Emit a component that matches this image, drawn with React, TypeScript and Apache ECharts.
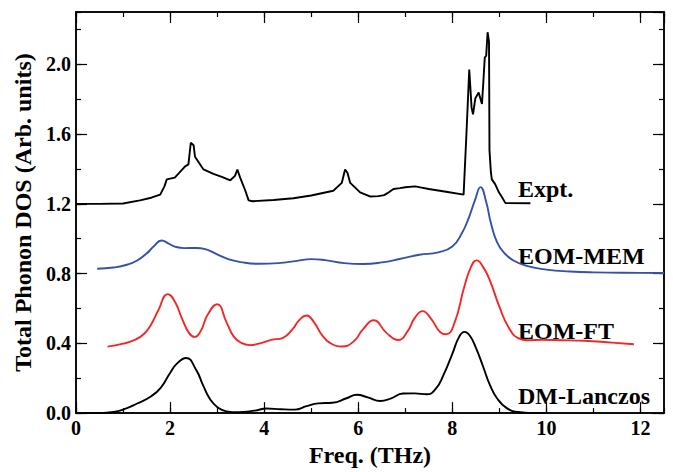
import React, { useEffect, useRef } from "react";
import * as echarts from "echarts";

const FONT = '"Liberation Serif", "Times New Roman", serif';

const exptX = [0, 0.5, 1.0, 1.36, 1.6, 1.79, 1.88, 1.93, 2.1, 2.32, 2.39, 2.44, 2.5, 2.53, 2.71, 2.92, 3.1, 3.28, 3.38, 3.43, 3.49, 3.6, 3.67, 3.75, 4.2, 4.62, 5.0, 5.47, 5.65, 5.72, 5.77, 5.83, 6.04, 6.26, 6.43, 6.55, 6.65, 6.75, 6.89, 7.0, 7.21, 7.32, 7.5, 7.9, 8.24, 8.3, 8.36, 8.41, 8.44, 8.49, 8.56, 8.63, 8.66, 8.69, 8.72, 8.75, 8.78, 8.79, 8.82, 8.84, 8.91, 8.99, 9.05, 9.13, 9.66];
const exptY = [1.2, 1.2, 1.202, 1.22, 1.235, 1.253, 1.3, 1.34, 1.35, 1.415, 1.426, 1.55, 1.536, 1.47, 1.397, 1.372, 1.355, 1.335, 1.36, 1.397, 1.35, 1.275, 1.22, 1.215, 1.222, 1.232, 1.248, 1.275, 1.32, 1.397, 1.378, 1.32, 1.266, 1.242, 1.244, 1.25, 1.266, 1.285, 1.29, 1.295, 1.3, 1.294, 1.285, 1.268, 1.253, 1.6, 1.97, 1.75, 1.713, 1.806, 1.838, 1.773, 1.9, 2.04, 2.048, 2.184, 2.13, 1.508, 1.38, 1.34, 1.313, 1.266, 1.24, 1.204, 1.203];

const memX = [0.45, 0.8, 1.1, 1.3, 1.5, 1.65, 1.82, 1.97, 2.1, 2.3, 2.55, 2.75, 3.0, 3.25, 3.5, 3.9, 4.3, 4.7, 5.0, 5.3, 5.7, 6.1, 6.5, 6.9, 7.3, 7.7, 8.0, 8.2, 8.35, 8.48, 8.6, 8.72, 8.82, 8.95, 9.1, 9.3, 9.6, 10.0, 10.5, 11.0, 12.0, 12.5];
const memY = [0.828, 0.835, 0.852, 0.875, 0.915, 0.955, 0.99, 0.972, 0.955, 0.946, 0.947, 0.94, 0.91, 0.882, 0.866, 0.856, 0.86, 0.873, 0.883, 0.877, 0.86, 0.855, 0.864, 0.885, 0.908, 0.922, 0.955, 1.03, 1.12, 1.22, 1.296, 1.21, 1.09, 0.98, 0.92, 0.875, 0.843, 0.823, 0.812, 0.807, 0.804, 0.803];

const ftX = [0.67, 1.0, 1.25, 1.45, 1.6, 1.75, 1.95, 2.1, 2.25, 2.4, 2.52, 2.65, 2.8, 3.0, 3.2, 3.35, 3.5, 3.7, 3.95, 4.15, 4.4, 4.6, 4.75, 4.9, 5.05, 5.25, 5.45, 5.65, 5.9, 6.1, 6.33, 6.6, 6.85, 7.05, 7.2, 7.37, 7.55, 7.75, 7.87, 8.05, 8.25, 8.4, 8.52, 8.65, 8.8, 9.0, 9.2, 9.4, 9.6, 9.9, 10.3, 10.8, 11.4, 11.86];
const ftY = [0.381, 0.398, 0.42, 0.455, 0.51, 0.59, 0.682, 0.64, 0.545, 0.46, 0.437, 0.47, 0.565, 0.624, 0.52, 0.44, 0.405, 0.39, 0.403, 0.42, 0.432, 0.48, 0.535, 0.56, 0.525, 0.44, 0.395, 0.382, 0.41, 0.48, 0.532, 0.46, 0.419, 0.47, 0.545, 0.585, 0.54, 0.462, 0.452, 0.52, 0.72, 0.84, 0.876, 0.84, 0.76, 0.61, 0.49, 0.43, 0.418, 0.42, 0.418, 0.415, 0.404, 0.395];

const dmX = [0, 0.5, 0.8, 1.0, 1.3, 1.6, 1.8, 2.0, 2.15, 2.34, 2.56, 2.7, 2.85, 3.0, 3.2, 3.45, 3.8, 4.05, 4.35, 4.65, 4.9, 5.15, 5.45, 5.75, 5.97, 6.2, 6.47, 6.7, 6.95, 7.2, 7.46, 7.65, 7.82, 8.0, 8.15, 8.26, 8.37, 8.5, 8.65, 8.8, 8.95, 9.15, 9.4, 9.7, 10];
const dmY = [0, 0, 0.006, 0.02, 0.055, 0.097, 0.145, 0.23, 0.285, 0.316, 0.245, 0.16, 0.08, 0.035, 0.01, 0.005, 0.014, 0.026, 0.022, 0.02, 0.04, 0.056, 0.059, 0.085, 0.105, 0.09, 0.069, 0.085, 0.112, 0.113, 0.108, 0.14, 0.223, 0.34, 0.44, 0.466, 0.445, 0.375, 0.27, 0.16, 0.085, 0.03, 0.006, 0, 0];

const seriesNames = ["Expt.", "EOM-MEM", "EOM-FT", "DM-Lanczos"];
const xTitle = "Freq. (THz)";
const yTitle = "Total Phonon DOS (Arb. units)";

const zip = (xs: number[], ys: number[]) => xs.map((x, i) => [x, ys[i]]);

export default function App() {
  const ref = useRef<HTMLDivElement>(null);
  useEffect(() => {
    if (!ref.current) return;
    const chart = echarts.init(ref.current, null, { renderer: "svg" });
    const X0 = 0, X1 = 12.5, Y0 = 0, Y1 = 2.3;
    const lineStyle = { color: "#000", width: 1.5 };
    const labelStyle = { fontFamily: FONT, fontWeight: "bold" as const, fontSize: 20, color: "#000" };
    const mkX = (pos: string, interval: number, len: number, labels: boolean, extra: any = {}) => ({
      type: "value", position: pos, min: X0, max: X1, interval,
      axisLine: { show: true, onZero: false, lineStyle },
      axisTick: { show: true, inside: true, length: len, lineStyle: { color: "#000", width: 1.2 } },
      axisLabel: labels ? { ...labelStyle, margin: 5, showMaxLabel: false } : { show: false },
      splitLine: { show: false },
      ...extra,
    });
    const mkY = (pos: string, interval: number, len: number, labels: boolean, extra: any = {}) => ({
      type: "value", position: pos, min: Y0, max: Y1, interval,
      axisLine: { show: true, onZero: false, lineStyle },
      axisTick: { show: true, inside: true, length: len, lineStyle: { color: "#000", width: 1.2 } },
      axisLabel: labels ? { ...labelStyle, margin: 5, showMaxLabel: false, formatter: (v: number) => v.toFixed(1) } : { show: false },
      splitLine: { show: false },
      ...extra,
    });
    const option: any = {
      animation: false,
      backgroundColor: "#fff",
      grid: { left: 76, top: 12, width: 588, height: 411, containLabel: false },
      xAxis: [
        mkX("bottom", 2, 11, true, {
          name: xTitle, nameLocation: "middle", nameGap: 24,
          nameTextStyle: { fontFamily: FONT, fontWeight: "bold", fontSize: 24, color: "#000" },
        }),
        mkX("bottom", 1, 5, false),
        mkX("top", 2, 11, false),
        mkX("top", 1, 5, false),
      ],
      yAxis: [
        mkY("left", 0.4, 11, true, {
          name: yTitle, nameLocation: "middle", nameGap: 38,
          nameTextStyle: { fontFamily: FONT, fontWeight: "bold", fontSize: 24, color: "#000" },
        }),
        mkY("left", 0.2, 5, false),
        mkY("right", 0.4, 11, false),
        mkY("right", 0.2, 5, false),
      ],
      series: [
        { name: seriesNames[0], type: "line", data: zip(exptX, exptY), showSymbol: false, smooth: false,
          lineStyle: { color: "#000", width: 1.9 }, itemStyle: { color: "#000" } },
        { name: seriesNames[1], type: "line", data: zip(memX, memY), showSymbol: false, smooth: 0.5,
          lineStyle: { color: "#3552a8", width: 1.9 }, itemStyle: { color: "#3552a8" } },
        { name: seriesNames[2], type: "line", data: zip(ftX, ftY), showSymbol: false, smooth: 0.5,
          lineStyle: { color: "#f02828", width: 1.9 }, itemStyle: { color: "#f02828" } },
        { name: seriesNames[3], type: "line", data: zip(dmX, dmY), showSymbol: false, smooth: 0.5,
          lineStyle: { color: "#000", width: 1.9 }, itemStyle: { color: "#000" } },
      ],
      graphic: [
        { type: "text", left: 518, top: 177, style: { text: seriesNames[0], font: `bold 24px ${FONT}`, fill: "#000" } },
        { type: "text", left: 518, top: 244, style: { text: seriesNames[1], font: `bold 24px ${FONT}`, fill: "#000" } },
        { type: "text", left: 518, top: 319, style: { text: seriesNames[2], font: `bold 24px ${FONT}`, fill: "#000" } },
        { type: "text", left: 518, top: 384, style: { text: seriesNames[3], font: `bold 24px ${FONT}`, fill: "#000" } },
      ],
    };
    chart.setOption(option);
    return () => chart.dispose();
  }, []);
  return <div ref={ref} style={{ width: 673, height: 472, position: "absolute", left: 0, top: 0 }} />;
}
